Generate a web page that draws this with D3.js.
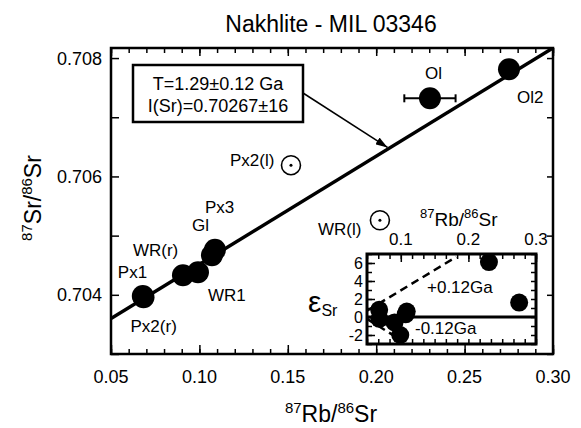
<!DOCTYPE html>
<html>
<head>
<meta charset="utf-8">
<script src="https://cdn.jsdelivr.net/npm/d3@7"></script>
<style>
  body { margin: 0; background: #fff; }
  svg { font-family: "Liberation Sans", Arial, sans-serif; }
</style>
</head>
<body>
<svg id="chart" width="581" height="428"></svg>
<script>
"use strict";

// isochron samples (filled symbols)
const sampleNames = ["Px1", "Px2(r)", "WR(r)", "WR1", "Gl", "Px3", "Ol", "Ol2"];
const rbSr = [0.0680, 0.0684, 0.0907, 0.0992, 0.1071, 0.1088, 0.2304, 0.2751];
const srSr = [0.70398, 0.70396, 0.70433, 0.70438, 0.70467, 0.70476, 0.70732, 0.70781];
const rbSrErr = [0, 0, 0, 0, 0, 0, 0.0145, 0];

// leachates (open symbols, not in fit)
const leachNames = ["Px2(l)", "WR(l)"];
const leachRbSr = [0.1518, 0.2021];
const leachSrSr = [0.70619, 0.70526];

// isochron line ends
const isoRb = [0.05, 0.30];
const isoSr = [0.7036, 0.70817];
// arrow tip on the isochron
const arrowRb = 0.2064, arrowSr = 0.70649;

// inset: epsilon Sr deviation from the isochron
const epsSr = [0.8, -0.2, -0.6, -2.0, 0.3, 0.6, 6.1, 1.6];
const plusRb = [0.05, 0.182], plusEps = [0.69, 6.67];
const minusRb = [0.05, 0.10], minusEps = [-0.21, -2.55];

// tick labels
const xTicks = [0.05, 0.10, 0.15, 0.20, 0.25, 0.30];
const yTicks = [0.704, 0.706, 0.708];
const insetXTicks = [0.1, 0.2, 0.3];
const insetYTicks = [-2, 0, 2, 4, 6];

const svg = d3.select("#chart");

// main plot area
const m = { l: 111, r: 553, t: 48, b: 354 };
const x = d3.scaleLinear().domain([0.05, 0.30]).range([m.l, m.r]);
const y = d3.scaleLinear().domain([0.703, 0.70817]).range([m.b, m.t]);

// helper: draw ticks only with a d3 axis
function tickAxis(g, axis) {
    g.call(axis);
    g.select(".domain").remove();
    g.selectAll(".tick line").attr("stroke", "#000").attr("stroke-width", 1.5);
    g.selectAll(".tick text").remove();
}

const minorX = d3.range(0.05, 0.3001, 0.01);
const minorY = d3.range(0.703, 0.7082, 0.001);

svg.append("g").attr("transform", `translate(0,${m.b})`)
    .call(tickAxis, d3.axisBottom(x).tickValues(minorX).tickSize(-5));
svg.append("g").attr("transform", `translate(0,${m.b})`)
    .call(tickAxis, d3.axisBottom(x).tickValues(xTicks).tickSize(-9));
svg.append("g").attr("transform", `translate(0,${m.t})`)
    .call(tickAxis, d3.axisTop(x).tickValues(minorX).tickSize(-5));
svg.append("g").attr("transform", `translate(0,${m.t})`)
    .call(tickAxis, d3.axisTop(x).tickValues(xTicks).tickSize(-8));
svg.append("g").attr("transform", `translate(${m.l},0)`)
    .call(tickAxis, d3.axisLeft(y).tickValues(minorY).tickSize(-8));
svg.append("g").attr("transform", `translate(${m.r},0)`)
    .call(tickAxis, d3.axisRight(y).tickValues(minorY).tickSize(-6));

// tick labels
svg.append("g").selectAll("text").data(xTicks).join("text")
    .attr("x", d => x(d)).attr("y", m.b + 29)
    .attr("text-anchor", "middle").attr("font-size", 18)
    .text(d => d.toFixed(2));
svg.append("g").selectAll("text").data(yTicks).join("text")
    .attr("x", m.l - 9).attr("y", d => y(d) + 6.5)
    .attr("text-anchor", "end").attr("font-size", 18)
    .text(d => d.toFixed(3));

// frame
svg.append("rect").attr("x", m.l).attr("y", m.t)
    .attr("width", m.r - m.l).attr("height", m.b - m.t)
    .attr("fill", "none").attr("stroke", "#000").attr("stroke-width", 2.5);

// title
svg.append("text").attr("x", 331).attr("y", 32)
    .attr("text-anchor", "middle").attr("font-size", 23)
    .text("Nakhlite - MIL 03346");

// axis titles with superscripts
function isoLabel(sel, big, small, a, b) {
    sel.append("tspan").attr("font-size", small).attr("dy", -big * 0.4).text("87");
    sel.append("tspan").attr("font-size", big).attr("dy", big * 0.4).text(a + "/");
    sel.append("tspan").attr("font-size", small).attr("dy", -big * 0.4).text("86");
    sel.append("tspan").attr("font-size", big).attr("dy", big * 0.4).text(b);
}
svg.append("text").attr("x", 331).attr("y", 422)
    .attr("text-anchor", "middle")
    .call(isoLabel, 23, 15, "Rb", "Sr");
svg.append("text").attr("transform", "translate(41,198) rotate(-90)")
    .attr("text-anchor", "middle")
    .call(isoLabel, 23, 15, "Sr", "Sr");

// isochron
const clipMain = svg.append("clipPath").attr("id", "clipMain")
    .append("rect").attr("x", m.l).attr("y", m.t)
    .attr("width", m.r - m.l).attr("height", m.b - m.t);
svg.append("line")
    .attr("clip-path", "url(#clipMain)")
    .attr("x1", x(isoRb[0])).attr("y1", y(isoSr[0]))
    .attr("x2", x(isoRb[1])).attr("y2", y(isoSr[1]))
    .attr("stroke", "#000").attr("stroke-width", 3.5);

// error bars
const samples = sampleNames.map((n, i) => ({ name: n, x: rbSr[i], y: srSr[i], err: rbSrErr[i] }));
const errG = svg.append("g").attr("stroke", "#000").attr("stroke-width", 2);
samples.filter(d => d.err > 0).forEach(d => {
    errG.append("line")
        .attr("x1", x(d.x - d.err)).attr("x2", x(d.x + d.err))
        .attr("y1", y(d.y)).attr("y2", y(d.y));
    [d.x - d.err, d.x + d.err].forEach(v => {
        errG.append("line")
            .attr("x1", x(v)).attr("x2", x(v))
            .attr("y1", y(d.y) - 4).attr("y2", y(d.y) + 4);
    });
});

// filled points
svg.append("g").selectAll("circle").data(samples).join("circle")
    .attr("cx", d => x(d.x)).attr("cy", d => y(d.y)).attr("r", 11)
    .attr("fill", "#000");

// open points
const leach = leachNames.map((n, i) => ({ name: n, x: leachRbSr[i], y: leachSrSr[i] }));
const lg = svg.append("g");
lg.selectAll("circle.o").data(leach).join("circle").attr("class", "o")
    .attr("cx", d => x(d.x)).attr("cy", d => y(d.y)).attr("r", 9.5)
    .attr("fill", "#fff").attr("stroke", "#000").attr("stroke-width", 1.6);
lg.selectAll("circle.c").data(leach).join("circle").attr("class", "c")
    .attr("cx", d => x(d.x)).attr("cy", d => y(d.y)).attr("r", 1.5)
    .attr("fill", "#000");

// point labels (offsets in px)
const labelOffset = {
    "Px1": [-25, -18], "Px2(r)": [-13, 35], "WR(r)": [-50, -19], "WR1": [10, 29],
    "Gl": [-20, -24], "Px3": [-10, -37], "Ol": [-5, -19], "Ol2": [8, 34],
    "Px2(l)": [-61, 1], "WR(l)": [-62, 15]
};
svg.append("g").selectAll("text").data(samples.concat(leach)).join("text")
    .attr("x", d => x(d.x) + labelOffset[d.name][0])
    .attr("y", d => y(d.y) + labelOffset[d.name][1])
    .attr("font-size", 17)
    .text(d => d.name);

// annotation box + arrow
svg.append("defs").append("marker")
    .attr("id", "arrow").attr("viewBox", "0 0 12 8")
    .attr("refX", 12).attr("refY", 4)
    .attr("markerWidth", 12).attr("markerHeight", 8)
    .attr("markerUnits", "userSpaceOnUse")
    .attr("orient", "auto")
    .append("path").attr("d", "M0,0L12,4L0,8z").attr("fill", "#000");
svg.append("line")
    .attr("x1", 303).attr("y1", 93)
    .attr("x2", x(arrowRb)).attr("y2", y(arrowSr))
    .attr("stroke", "#000").attr("stroke-width", 1.5)
    .attr("marker-end", "url(#arrow)");
svg.append("rect").attr("x", 133).attr("y", 65).attr("width", 170).attr("height", 57)
    .attr("fill", "#fff").attr("stroke", "#000").attr("stroke-width", 2.5);
svg.append("text").attr("x", 218).attr("y", 90).attr("text-anchor", "middle")
    .attr("font-size", 18).text("T=1.29\u00b10.12 Ga");
svg.append("text").attr("x", 218).attr("y", 112).attr("text-anchor", "middle")
    .attr("font-size", 18).text("I(Sr)=0.70267\u00b116");

// ---------- inset ----------
const im = { l: 367, r: 536, t: 254, b: 344 };
const ix = d3.scaleLinear().domain([0.05, 0.30]).range([im.l, im.r]);
const iy = d3.scaleLinear().domain([-3, 7]).range([im.b, im.t]);
const ig = svg.append("g");

ig.append("rect").attr("x", im.l).attr("y", im.t)
    .attr("width", im.r - im.l).attr("height", im.b - im.t).attr("fill", "#fff");

const iMinorX = d3.range(0.05, 0.3001, 0.1 / 6);
const iMinorY = d3.range(-3, 7.01, 1);
ig.append("g").attr("transform", `translate(0,${im.t})`)
    .call(tickAxis, d3.axisTop(ix).tickValues(iMinorX).tickSize(-5));
ig.append("g").attr("transform", `translate(0,${im.t})`)
    .call(tickAxis, d3.axisTop(ix).tickValues(insetXTicks).tickSize(-8));
ig.append("g").attr("transform", `translate(0,${im.b})`)
    .call(tickAxis, d3.axisBottom(ix).tickValues(iMinorX).tickSize(-5));
ig.append("g").attr("transform", `translate(${im.l},0)`)
    .call(tickAxis, d3.axisLeft(iy).tickValues(iMinorY).tickSize(-5));
ig.append("g").attr("transform", `translate(${im.l},0)`)
    .call(tickAxis, d3.axisLeft(iy).tickValues(insetYTicks).tickSize(-8));
ig.append("g").attr("transform", `translate(${im.r},0)`)
    .call(tickAxis, d3.axisRight(iy).tickValues(iMinorY).tickSize(-5));

ig.append("g").selectAll("text").data(insetXTicks).join("text")
    .attr("x", d => ix(d)).attr("y", im.t - 9)
    .attr("text-anchor", "middle").attr("font-size", 17)
    .text(d => d.toFixed(1));
ig.append("g").selectAll("text").data(insetYTicks).join("text")
    .attr("x", im.l - 4).attr("y", d => iy(d) + 6)
    .attr("text-anchor", "end").attr("font-size", 16)
    .text(d => d);

ig.append("text").attr("x", 420).attr("y", 226)
    .call(isoLabel, 19, 13, "Rb", "Sr");
const eps = ig.append("text").attr("x", 308).attr("y", 312);
eps.append("tspan").attr("font-size", 30).text("\u03b5");
eps.append("tspan").attr("font-size", 16).attr("dy", 4).text("Sr");

// zero line and +/-0.12 Ga lines
ig.append("line")
    .attr("x1", ix(0.05)).attr("x2", ix(0.30))
    .attr("y1", iy(0)).attr("y2", iy(0))
    .attr("stroke", "#000").attr("stroke-width", 3);
const dashLine = d3.line().x(d => ix(d[0])).y(d => iy(d[1]));
[[plusRb, plusEps], [minusRb, minusEps]].forEach(([xs, es]) => {
    ig.append("path")
        .attr("d", dashLine(xs.map((v, i) => [v, es[i]])))
        .attr("fill", "none").attr("stroke", "#000")
        .attr("stroke-width", 2.5).attr("stroke-dasharray", "8,5");
});

ig.append("g").selectAll("circle").data(rbSr).join("circle")
    .attr("cx", d => ix(d)).attr("cy", (d, i) => iy(epsSr[i])).attr("r", 9)
    .attr("fill", "#000");

ig.append("text").attr("x", 427).attr("y", 293).attr("font-size", 17).text("+0.12Ga");
ig.append("text").attr("x", 415).attr("y", 334).attr("font-size", 17).text("-0.12Ga");

ig.append("rect").attr("x", im.l).attr("y", im.t)
    .attr("width", im.r - im.l).attr("height", im.b - im.t)
    .attr("fill", "none").attr("stroke", "#000").attr("stroke-width", 3);
</script>
</body>
</html>
